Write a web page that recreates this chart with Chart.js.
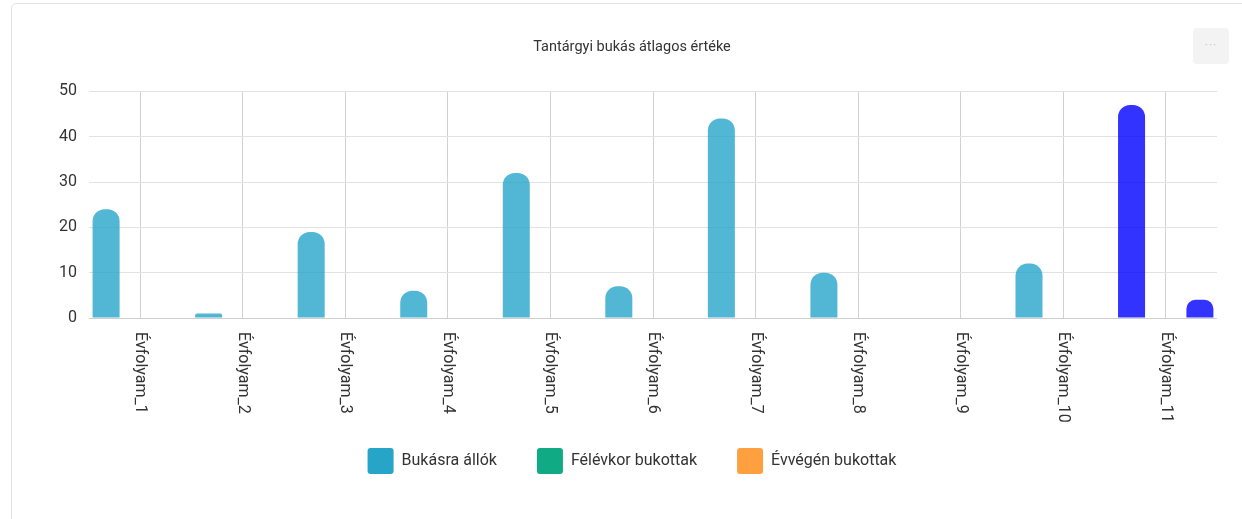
<!DOCTYPE html>
<html>
<head>
<meta charset="utf-8">
<script src="https://cdn.jsdelivr.net/npm/chart.js@4/dist/chart.umd.min.js"></script>
<style>
    body { margin: 0; background: #fff; font-family: Roboto, sans-serif; overflow: hidden; }
    .card {
        position: absolute; left: 11px; top: 3px; width: 1260px; height: 540px;
        border: 1px solid #e2e2e2; border-radius: 5px; box-sizing: border-box;
    }
    .menu {
        position: absolute; left: 1193px; top: 28px; width: 36px; height: 36px;
        background: #f3f3f3; border-radius: 4px; color: #c8c8c8;
        font-size: 12px; line-height: 34px; text-align: center; letter-spacing: 1px;
    }
    #wrap { position: absolute; left: 47px; top: 20px; width: 1170px; height: 464px; }
</style>
</head>
<body>
<div class="card"></div>
<div class="menu">···</div>
<div id="wrap"><canvas id="bukasChart"></canvas></div>
<script>
// adatok
const evfolyamok = ['Évfolyam_1', 'Évfolyam_2', 'Évfolyam_3', 'Évfolyam_4', 'Évfolyam_5', 'Évfolyam_6',
    'Évfolyam_7', 'Évfolyam_8', 'Évfolyam_9', 'Évfolyam_10', 'Évfolyam_11'];
const bukasraAllok = [24, 1, 19, 6, 32, 7, 44, 10, 0, 12, 47];
const felevkorBukottak = [0, 0, 0, 0, 0, 0, 0, 0, 0, 0, 0];
const evvegenBukottak = [0, 0, 0, 0, 0, 0, 0, 0, 0, 0, 4];
const yTicks = [0, 10, 20, 30, 40, 50];

const kiemeltIndex = 10; // az utolsó évfolyam kék
const kek = 'rgba(0, 0, 255, 0.8)';

function szinek(values, alap) {
    return values.map((v, i) => i === kiemeltIndex ? kek : alap);
}

// x feliratok lefelé olvasva (óramutató irányában forgatva)
const xFeliratPlugin = {
    id: 'xFelirat',
    afterDraw(chart) {
        const scale = chart.scales.x;
        const ctx = chart.ctx;
        ctx.save();
        ctx.font = '16px Roboto';
        ctx.fillStyle = '#333';
        ctx.textAlign = 'left';
        ctx.textBaseline = 'middle';
        scale.ticks.forEach((t, i) => {
            const x = scale.getPixelForTick(i);
            ctx.save();
            ctx.translate(x, scale.top + 14);
            ctx.rotate(Math.PI / 2);
            ctx.fillText(scale.getLabelForValue(t.value), 0, 0);
            ctx.restore();
        });
        ctx.restore();
    }
};

const ctx = document.getElementById('bukasChart').getContext('2d');
new Chart(ctx, {
    type: 'bar',
    data: {
        labels: evfolyamok,
        datasets: [
            {
                label: 'Bukásra állók',
                data: bukasraAllok,
                backgroundColor: szinek(bukasraAllok, 'rgba(38, 165, 201, 0.8)'),
                legendColor: '#26a5c9'
            },
            {
                label: 'Félévkor bukottak',
                data: felevkorBukottak,
                backgroundColor: szinek(felevkorBukottak, 'rgba(16, 171, 133, 0.8)'),
                legendColor: '#10ab85'
            },
            {
                label: 'Évvégén bukottak',
                data: evvegenBukottak,
                backgroundColor: szinek(evvegenBukottak, 'rgba(255, 160, 64, 0.8)'),
                legendColor: '#ffa040'
            }
        ]
    },
    options: {
        responsive: true,
        maintainAspectRatio: false,
        animation: false,
        datasets: {
            bar: {
                categoryPercentage: 1.0,
                barPercentage: 0.79,
                borderRadius: { topLeft: 12, topRight: 12 },
                borderSkipped: 'bottom'
            }
        },
        layout: { padding: 0 },
        plugins: {
            title: {
                display: true,
                text: 'Tantárgyi bukás átlagos értéke',
                color: '#333',
                font: { family: 'Roboto', size: 14.5, weight: 'normal' },
                padding: { top: 19, bottom: 35 }
            },
            legend: {
                position: 'bottom',
                labels: {
                    color: '#333',
                    font: { family: 'Roboto', size: 16 },
                    boxWidth: 26,
                    boxHeight: 26,
                    padding: 40,
                    useBorderRadius: true,
                    borderRadius: 3,
                    generateLabels(chart) {
                        return chart.data.datasets.map((ds, i) => ({
                            text: ds.label,
                            fillStyle: ds.legendColor,
                            strokeStyle: ds.legendColor,
                            lineWidth: 0,
                            fontColor: '#333',
                            borderRadius: 3,
                            hidden: !chart.isDatasetVisible(i),
                            datasetIndex: i
                        }));
                    }
                }
            },
            tooltip: { enabled: false }
        },
        scales: {
            x: {
                grid: { offset: false, color: '#d2d2d2', drawTicks: false },
                border: { display: true, color: '#cfcfcf' },
                ticks: {
                    color: 'transparent',
                    font: { family: 'Roboto', size: 16 },
                    minRotation: 90,
                    maxRotation: 90,
                    padding: 14,
                    autoSkip: false
                },
                afterFit(scale) { scale.height = 90; }
            },
            y: {
                min: 0,
                max: 50,
                grid: { color: '#e2e2e2', drawTicks: false },
                border: { display: false },
                afterBuildTicks(scale) {
                    scale.ticks = yTicks.map(v => ({ value: v }));
                },
                ticks: {
                    color: '#333',
                    font: { family: 'Roboto', size: 16 },
                    padding: 12
                },
                afterFit(scale) { scale.width = 42; }
            }
        }
    },
    plugins: [xFeliratPlugin]
});
</script>
</body>
</html>
